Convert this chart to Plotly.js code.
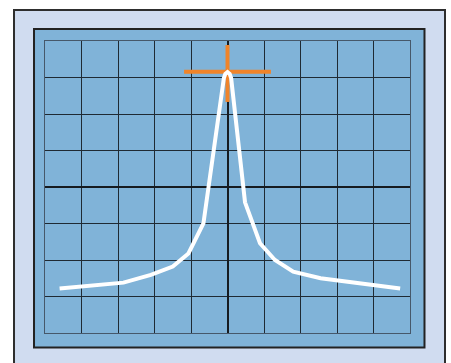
<!DOCTYPE html>
<html>
<head>
<meta charset="utf-8">
<script src="https://cdn.plot.ly/plotly-3.0.1.min.js"></script>
<style>
  html, body { margin: 0; padding: 0; background: #ffffff; }
  #scope { width: 451px; height: 363px; }
</style>
</head>
<body>
<div id="scope"></div>
<script>
// trace on the screen, in grid divisions (x: -5..5, y: -4..4)
var traceX = [-4.6, -2.85, -2.1, -1.5, -1.07, -0.66, -0.1, -0.06, 0, 0.06, 0.1, 0.48, 0.89, 1.3, 1.8, 2.55, 4.73];
var traceY = [-2.78, -2.62, -2.41, -2.18, -1.82, -1.0, 2.98, 3.1, 3.15, 3.1, 2.98, -0.42, -1.54, -2.0, -2.32, -2.5, -2.78];

// marker on the peak
var markerX = [0];
var markerY = [3.16];
var markerHalfWidth = [1.19];
var markerUp = [0.73];
var markerDown = [0.83];

var gridColor = "#1f2a33";

var marker = {
  x: markerX,
  y: markerY,
  mode: "markers",
  type: "scatter",
  marker: { size: 1, color: "rgba(0,0,0,0)" },
  error_x: {
    type: "data",
    array: markerHalfWidth,
    visible: true,
    width: 0,
    thickness: 4,
    color: "#f0842a",
  },
  error_y: {
    type: "data",
    symmetric: false,
    array: markerUp,
    arrayminus: markerDown,
    visible: true,
    width: 0,
    thickness: 4,
    color: "#f0842a",
  },
  hoverinfo: "skip",
};

var curve = {
  x: traceX,
  y: traceY,
  mode: "lines",
  type: "scatter",
  line: { color: "#ffffff", width: 4 },
  hoverinfo: "skip",
};

var axisCommon = {
  dtick: 1,
  showgrid: true,
  gridcolor: gridColor,
  gridwidth: 1,
  zeroline: true,
  zerolinecolor: "#161b20",
  zerolinewidth: 2,
  showline: true,
  mirror: true,
  linecolor: "#46586a",
  linewidth: 1,
  showticklabels: false,
  ticks: "",
  fixedrange: true,
};

var layout = {
  width: 451,
  height: 363,
  margin: { l: 45, r: 41, t: 41, b: 30 },
  paper_bgcolor: "#ffffff",
  plot_bgcolor: "#80b3d8",
  showlegend: false,
  hovermode: false,
  xaxis: Object.assign({ range: [-5, 5] }, axisCommon),
  yaxis: Object.assign({ range: [-4, 4] }, axisCommon),
  shapes: [
    // outer bezel
    {
      type: "rect", xref: "paper", yref: "paper", layer: "below",
      x0: -0.0849, x1: 1.0959, y0: -0.16, y1: 1.1062,
      fillcolor: "#d0dcf0",
      line: { color: "#2e2e2e", width: 2 },
    },
    // screen
    {
      type: "rect", xref: "paper", yref: "paper", layer: "below",
      x0: -0.0301, x1: 1.0397, y0: -0.0497, y1: 1.0411,
      fillcolor: "#80b3d8",
      line: { color: "#222222", width: 2 },
    },
  ],
};

Plotly.newPlot("scope", [marker, curve], layout, { displayModeBar: false, staticPlot: true });
</script>
</body>
</html>
